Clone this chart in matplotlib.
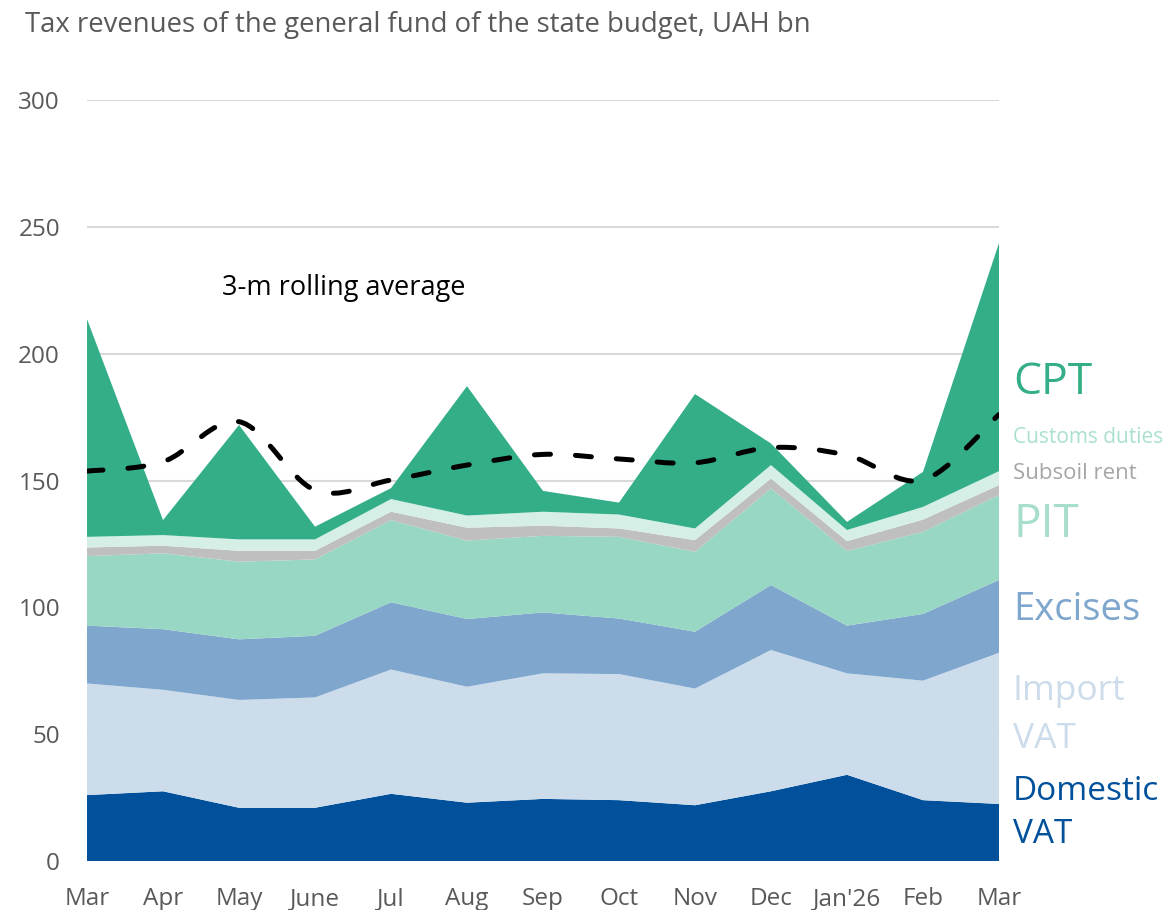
import numpy as np
import matplotlib.pyplot as plt
from matplotlib.path import Path
from matplotlib.patches import PathPatch

plt.rcParams['font.family'] = ['Open Sans', 'DejaVu Sans']

months = ['Mar', 'Apr', 'May', 'June', 'Jul', 'Aug', 'Sep', 'Oct', 'Nov', 'Dec', "Jan'26", 'Feb', 'Mar']

# UAH bn
domestic_vat = [26.0, 27.5, 21.0, 21.0, 26.5, 23.0, 24.5, 24.0, 22.0, 27.5, 34.0, 24.0, 22.5]
import_vat = [44.0, 40.0, 42.5, 43.5, 49.0, 45.7, 49.5, 49.7, 46.0, 55.7, 40.0, 47.1, 59.6]
excises = [22.8, 23.9, 23.9, 24.3, 26.5, 26.7, 24.0, 21.9, 22.4, 25.6, 18.8, 26.3, 28.7]
pit = [27.4, 29.9, 30.6, 30.1, 32.4, 30.9, 30.2, 32.2, 31.5, 38.1, 29.4, 32.4, 33.5]
subsoil_rent = [3.4, 3.0, 4.3, 3.4, 3.3, 5.1, 4.0, 3.3, 4.6, 3.9, 3.9, 4.8, 3.9]
customs = [4.2, 4.2, 4.5, 4.5, 5.0, 4.8, 5.5, 5.5, 4.6, 5.3, 4.4, 5.0, 5.5]
cpt = [85.8, 5.9, 45.1, 5.0, 4.3, 51.0, 8.2, 4.7, 53.0, 8.5, 3.2, 13.8, 89.9]
rolling_avg = [153.7, 157.4, 173.2, 146.2, 150.2, 156.1, 160.3, 158.5, 157.0, 163.0, 160.0, 150.2, 176.0]

colors = ['#00509B', '#CCDCEB', '#7FA6CD', '#98D7C3', '#BFBFBF', '#D5EFE7', '#33AE88']

fig = plt.figure(figsize=(11.68, 9.10), dpi=100)
ax = fig.add_axes([0.0745, 0.0538, 0.7808, 0.8363])

x = np.arange(len(months))
ax.stackplot(x, domestic_vat, import_vat, excises, pit, subsoil_rent, customs, cpt,
             colors=colors, linewidth=0, zorder=2)

# smoothed dashed line (Bezier through the points, like Excel's smoothed line)
pts = np.column_stack([x, rolling_avg]).astype(float)
verts = [pts[0]]
codes = [Path.MOVETO]
n = len(pts)
for i in range(n - 1):
    p0 = pts[max(i - 1, 0)]
    p1 = pts[i]
    p2 = pts[i + 1]
    p3 = pts[min(i + 2, n - 1)]
    verts += [p1 + (p2 - p0) / 6, p2 - (p3 - p1) / 6, p2]
    codes += [Path.CURVE4] * 3
ax.add_patch(PathPatch(Path(verts, codes), fill=False, edgecolor='black', lw=3.6,
                       linestyle=(0, (3.2, 5.0)), capstyle='round', zorder=4))

ax.set_xlim(0, 12)
ax.set_ylim(0, 300)
ax.set_yticks(range(0, 301, 50))
ax.set_xticks(x)
ax.set_xticklabels(months)
ax.grid(axis='y', color='#D9D9D9', lw=1.5, zorder=0)
ax.set_axisbelow(True)
for s in ax.spines.values():
    s.set_visible(False)
ax.tick_params(length=0, labelcolor='#595959')
ax.tick_params(axis='y', pad=19.5, labelsize=17.5)
ax.tick_params(axis='x', pad=19, labelsize=17.5)

fig.text(0.021, 0.972, 'Tax revenues of the general fund of the state budget, UAH bn',
         fontsize=19.8, color='#595959', va='center', ha='left')
ax.text(1.78, 226, '3-m rolling average', fontsize=19.5, color='black', va='center', ha='left')

# series labels on the right: text, y pixel, size, colour, line spacing
lbl = [
    ('CPT', 383, 32, '#33AE88', 1.2),
    ('Customs duties', 437, 15, '#A9E0CE', 1.2),
    ('Subsoil rent', 473, 16, '#A6A6A6', 1.2),
    ('PIT', 525, 33, '#A6DDCB', 1.2),
    ('Excises', 610, 27.5, '#7FA6CD', 1.2),
    ('Import\nVAT', 715, 25.5, '#CCDCEB', 1.5),
    ('Domestic\nVAT', 813, 24, '#00509B', 1.38),
]
for txt, ypix, fs, col, ls in lbl:
    fig.text(1013 / 1168, 1 - ypix / 910, txt, fontsize=fs, color=col, va='center',
             ha='left', linespacing=ls)

fig.savefig('out.png', dpi=100)
